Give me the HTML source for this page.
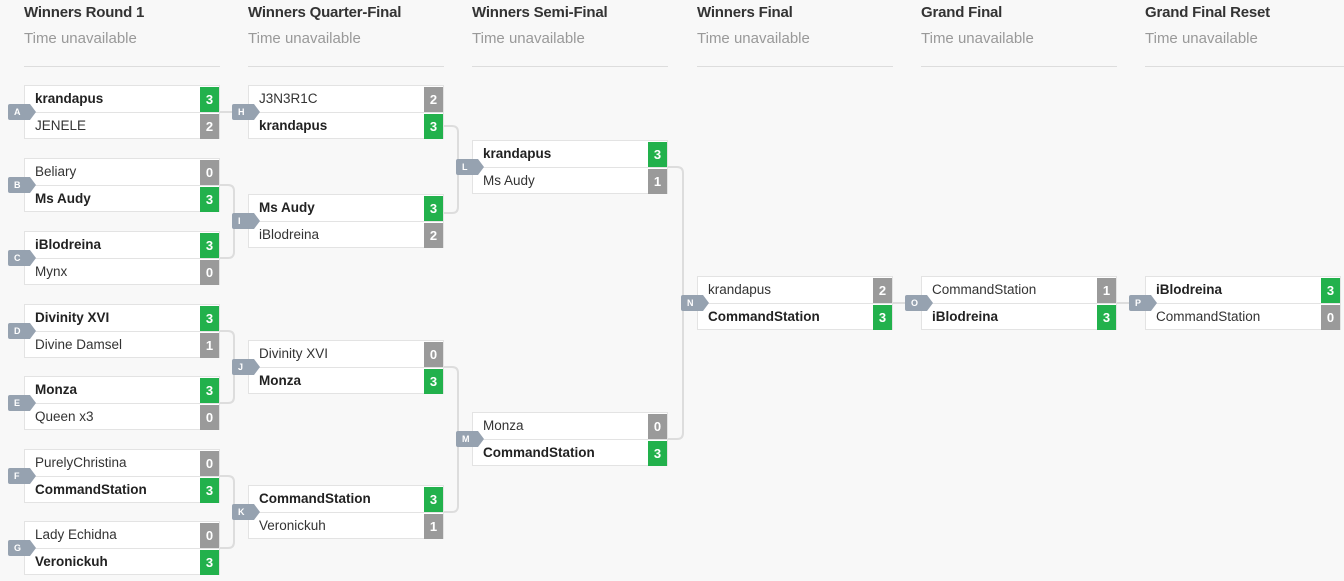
<!DOCTYPE html>
<html><head><meta charset="utf-8"><style>
body{margin:0;width:1344px;height:581px;background:#f8f8f8;font-family:"Liberation Sans",Arial,sans-serif;position:relative;overflow:hidden}
.h{position:absolute;top:4px;font-size:15px;font-weight:bold;color:#333;letter-spacing:-0.2px}
.s{position:absolute;top:30px;font-size:15px;color:#999}
.ln{position:absolute;top:66px;width:196px;height:1px;background:#ddd}
.m{position:absolute;width:194px;height:52px;border:1px solid #e3e3e3;background:#fff}
.r{position:absolute;left:0;width:194px;height:26px;font-size:13.5px;color:#333;line-height:26px}
.r span{position:absolute;left:10px}
.r.w span{font-weight:bold;color:#222}
.r b{position:absolute;right:0;top:1px;width:19px;height:25px;text-align:center;color:#fff;font-size:13px;background:#9a9a9a;line-height:25px}
.r.w b{background:#22b14c}
.r1{top:0;border-bottom:1px solid #e3e3e3}
.r2{top:27px}
.t{position:absolute;width:22px;height:16px;background:#96a2b0;color:#fff;font-size:9px;font-weight:bold;line-height:16px;text-indent:6px;border-radius:2px 0 0 2px}
.t:after{content:"";position:absolute;right:-6px;top:0;border-left:6px solid #96a2b0;border-top:8px solid transparent;border-bottom:8px solid transparent}
</style></head><body>
<svg width="1344" height="581" style="position:absolute;left:0;top:0" fill="none" stroke="#ddd" stroke-width="2">
<path d="M220 112H248"/>
<path d="M220 185H228Q234 185 234 191V252Q234 258 228 258H220M234 221H248"/>
<path d="M220 331H228Q234 331 234 337V397Q234 403 228 403H220M234 367H248"/>
<path d="M220 476H228Q234 476 234 482V542Q234 548 228 548H220M234 512H248"/>
<path d="M444 126H452Q458 126 458 132V207Q458 213 452 213H444M458 167H472"/>
<path d="M444 367H452Q458 367 458 373V506Q458 512 452 512H444M458 439H472"/>
<path d="M668 167H677Q683 167 683 173V433Q683 439 677 439H668M683 303H697"/>
<path d="M892 303H921M1116 303H1145"/>
</svg>
<div class="h" style="left:24px">Winners Round 1</div><div class="s" style="left:24px">Time unavailable</div><div class="ln" style="left:24px"></div>
<div class="h" style="left:248px">Winners Quarter-Final</div><div class="s" style="left:248px">Time unavailable</div><div class="ln" style="left:248px"></div>
<div class="h" style="left:472px">Winners Semi-Final</div><div class="s" style="left:472px">Time unavailable</div><div class="ln" style="left:472px"></div>
<div class="h" style="left:697px">Winners Final</div><div class="s" style="left:697px">Time unavailable</div><div class="ln" style="left:697px"></div>
<div class="h" style="left:921px">Grand Final</div><div class="s" style="left:921px">Time unavailable</div><div class="ln" style="left:921px"></div>
<div class="h" style="left:1145px">Grand Final Reset</div><div class="s" style="left:1145px">Time unavailable</div><div class="ln" style="left:1145px;width:199px"></div>

<div class="m" style="left:24px;top:85px"><div class="r r1 w"><span>krandapus</span><b>3</b></div><div class="r r2"><span>JENELE</span><b>2</b></div></div><div class="t" style="left:8px;top:104px">A</div>
<div class="m" style="left:24px;top:158px"><div class="r r1"><span>Beliary</span><b>0</b></div><div class="r r2 w"><span>Ms Audy</span><b>3</b></div></div><div class="t" style="left:8px;top:177px">B</div>
<div class="m" style="left:24px;top:231px"><div class="r r1 w"><span>iBlodreina</span><b>3</b></div><div class="r r2"><span>Mynx</span><b>0</b></div></div><div class="t" style="left:8px;top:250px">C</div>
<div class="m" style="left:24px;top:304px"><div class="r r1 w"><span>Divinity XVI</span><b>3</b></div><div class="r r2"><span>Divine Damsel</span><b>1</b></div></div><div class="t" style="left:8px;top:323px">D</div>
<div class="m" style="left:24px;top:376px"><div class="r r1 w"><span>Monza</span><b>3</b></div><div class="r r2"><span>Queen x3</span><b>0</b></div></div><div class="t" style="left:8px;top:395px">E</div>
<div class="m" style="left:24px;top:449px"><div class="r r1"><span>PurelyChristina</span><b>0</b></div><div class="r r2 w"><span>CommandStation</span><b>3</b></div></div><div class="t" style="left:8px;top:468px">F</div>
<div class="m" style="left:24px;top:521px"><div class="r r1"><span>Lady Echidna</span><b>0</b></div><div class="r r2 w"><span>Veronickuh</span><b>3</b></div></div><div class="t" style="left:8px;top:540px">G</div>

<div class="m" style="left:248px;top:85px"><div class="r r1"><span>J3N3R1C</span><b>2</b></div><div class="r r2 w"><span>krandapus</span><b>3</b></div></div><div class="t" style="left:232px;top:104px">H</div>
<div class="m" style="left:248px;top:194px"><div class="r r1 w"><span>Ms Audy</span><b>3</b></div><div class="r r2"><span>iBlodreina</span><b>2</b></div></div><div class="t" style="left:232px;top:213px">I</div>
<div class="m" style="left:248px;top:340px"><div class="r r1"><span>Divinity XVI</span><b>0</b></div><div class="r r2 w"><span>Monza</span><b>3</b></div></div><div class="t" style="left:232px;top:359px">J</div>
<div class="m" style="left:248px;top:485px"><div class="r r1 w"><span>CommandStation</span><b>3</b></div><div class="r r2"><span>Veronickuh</span><b>1</b></div></div><div class="t" style="left:232px;top:504px">K</div>

<div class="m" style="left:472px;top:140px"><div class="r r1 w"><span>krandapus</span><b>3</b></div><div class="r r2"><span>Ms Audy</span><b>1</b></div></div><div class="t" style="left:456px;top:159px">L</div>
<div class="m" style="left:472px;top:412px"><div class="r r1"><span>Monza</span><b>0</b></div><div class="r r2 w"><span>CommandStation</span><b>3</b></div></div><div class="t" style="left:456px;top:431px">M</div>

<div class="m" style="left:697px;top:276px"><div class="r r1"><span>krandapus</span><b>2</b></div><div class="r r2 w"><span>CommandStation</span><b>3</b></div></div><div class="t" style="left:681px;top:295px">N</div>
<div class="m" style="left:921px;top:276px"><div class="r r1"><span>CommandStation</span><b>1</b></div><div class="r r2 w"><span>iBlodreina</span><b>3</b></div></div><div class="t" style="left:905px;top:295px">O</div>
<div class="m" style="left:1145px;top:276px"><div class="r r1 w"><span>iBlodreina</span><b>3</b></div><div class="r r2"><span>CommandStation</span><b>0</b></div></div><div class="t" style="left:1129px;top:295px">P</div>
</body></html>
